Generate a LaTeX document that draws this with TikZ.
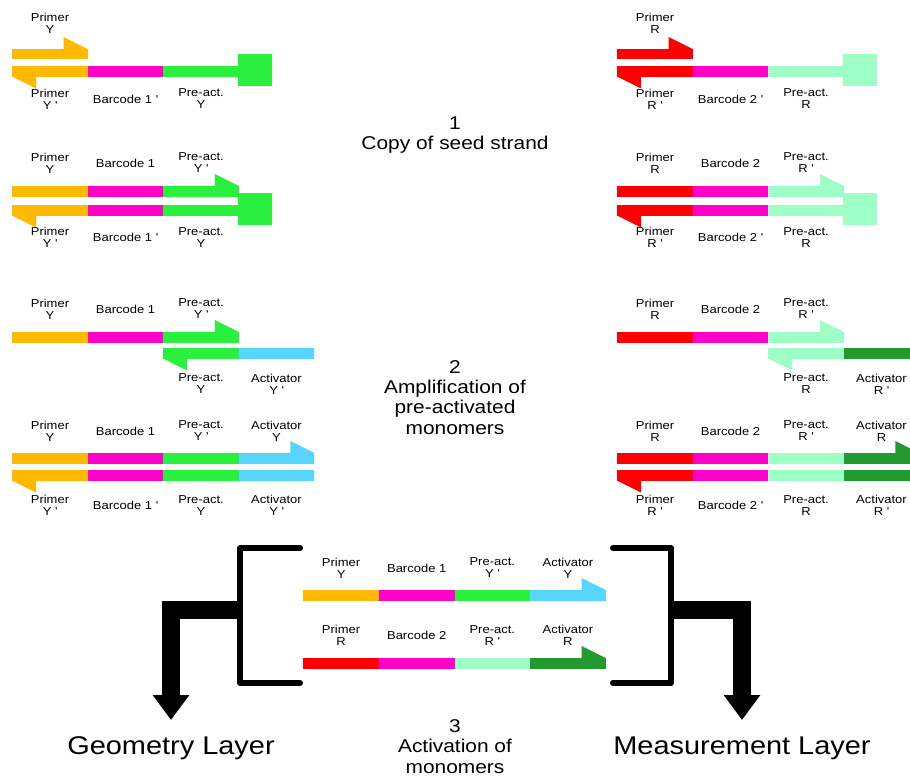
\documentclass[tikz,border=0pt]{standalone}
\usepackage{fontspec}
\setmainfont{Liberation Sans}[FakeStretch=1.13]
\usetikzlibrary{arrows.meta}

\definecolor{primY}{HTML}{FFBA00}
\definecolor{barc}{HTML}{FF00C8}
\definecolor{preY}{HTML}{28F03C}
\definecolor{actY}{HTML}{55D5FF}
\definecolor{primR}{HTML}{FF0000}
\definecolor{preR}{HTML}{9EFFC6}
\definecolor{actR}{HTML}{229A2E}

\newcommand{\prm}{~\textquotesingle}
% strand of coloured pieces: left x, top y, colours
\newcommand{\strand}[3]{%
  \foreach \col [count=\i from 0] in {#3}
    \fill[fill=\col] ({#1+\i*\segw},#2) rectangle ++(\segw,\strw);}
% half arrow heads: right end / left end of a strand
\newcommand{\fwdtip}[3]{\fill[fill=#3] (#1,#2) -- ++(-\tipl,0) -- ++(0,-\tiph) -- cycle;}
\newcommand{\revtip}[3]{\fill[fill=#3] (#1,#2) -- ++(\tipl,0) -- ++(0,\tiph) -- cycle;}

\begin{document}
\begin{tikzpicture}[
  x=1pt, y=-1pt,
  lbl/.style = {align=center, inner sep=0pt, font=\fontsize{11.5}{12}\selectfont},
  steptext/.style = {align=center, inner sep=0pt, anchor=north, font=\fontsize{18.5}{20.3}\selectfont},
  layer/.style = {inner sep=0pt, anchor=north, font=\fontsize{25.6}{30}\selectfont},
  bracket/.style = {line width=6pt, line cap=round, line join=round},
  bigarrow/.style = {line width=18pt, -{Triangle[width=35pt, length=25pt]}, shorten >=16.5pt}
]

% Parameters
\def\segw{75.6}
\def\strw{10.5}
\def\tipl{24}
\def\tiph{12}

\useasboundingbox (0,0) rectangle (910,776);
\clip (0,0) rectangle (910,776);

% Steps 1 and 2, left (Y) and right (R) columns
\foreach \sd/\dx/\L/\N/\cp/\cq/\ca in {l/0/Y/1/primY/preY/actY, r/605/R/2/primR/preR/actR}{
\begin{scope}[xshift=\dx pt]
  % copy of seed strand
  \strand{12}{49}{\cp}
  \fwdtip{87.6}{49}{\cp}
  \strand{12}{66}{\cp,barc,\cq}
  \revtip{12}{76.5}{\cp}
  \fill[fill=\cq] (238,54) rectangle (272,86);
  \node[lbl] (\sd-a1) at (50,23.5) {Primer\\\L};
  \node[lbl] (\sd-b1) at (50,99) {Primer\\\L\prm};
  \node[lbl] (\sd-b2) at (125.5,99) {Barcode \N\prm};
  \node[lbl] (\sd-b3) at (201,99) {Pre-act.\\\L};

  % full copy
  \strand{12}{186}{\cp,barc,\cq}
  \fwdtip{238.8}{186}{\cq}
  \strand{12}{205}{\cp,barc,\cq}
  \revtip{12}{215.5}{\cp}
  \fill[fill=\cq] (238,193) rectangle (272,225);
  \node[lbl] (\sd-c1) at (50,163) {Primer\\\L};
  \node[lbl] (\sd-c2) at (125.5,163) {Barcode \N};
  \node[lbl] (\sd-c3) at (201,163) {Pre-act.\\\L\prm};
  \node[lbl] (\sd-d1) at (50,237.5) {Primer\\\L\prm};
  \node[lbl] (\sd-d2) at (125.5,237.5) {Barcode \N\prm};
  \node[lbl] (\sd-d3) at (201,237.5) {Pre-act.\\\L};

  % amplification
  \strand{12}{332}{\cp,barc,\cq}
  \fwdtip{238.8}{332}{\cq}
  \strand{163.2}{348}{\cq,\ca}
  \revtip{163.2}{358.5}{\cq}
  \node[lbl] (\sd-e1) at (50,309) {Primer\\\L};
  \node[lbl] (\sd-e2) at (125.5,309) {Barcode \N};
  \node[lbl] (\sd-e3) at (201,309) {Pre-act.\\\L\prm};
  \node[lbl] (\sd-f3) at (201,384) {Pre-act.\\\L};
  \node[lbl] (\sd-f4) at (276.5,384) {Activator\\\L\prm};

  \strand{12}{453}{\cp,barc,\cq,\ca}
  \fwdtip{314.4}{453}{\ca}
  \strand{12}{470}{\cp,barc,\cq,\ca}
  \revtip{12}{480.5}{\cp}
  \node[lbl] (\sd-g1) at (50,431) {Primer\\\L};
  \node[lbl] (\sd-g2) at (125.5,431) {Barcode \N};
  \node[lbl] (\sd-g3) at (201,431) {Pre-act.\\\L\prm};
  \node[lbl] (\sd-g4) at (276.5,431) {Activator\\\L};
  \node[lbl] (\sd-h1) at (50,505.5) {Primer\\\L\prm};
  \node[lbl] (\sd-h2) at (125.5,505.5) {Barcode \N\prm};
  \node[lbl] (\sd-h3) at (201,505.5) {Pre-act.\\\L};
  \node[lbl] (\sd-h4) at (276.5,505.5) {Activator\\\L\prm};
\end{scope}
}

% Step 3: activated monomers
\strand{303.3}{590}{primY,barc,preY,actY}
\fwdtip{605.7}{590}{actY}
\strand{303.3}{658}{primR,barc,preR,actR}
\fwdtip{605.7}{658}{actR}
\node[lbl] (m-y1) at (341.1,568) {Primer\\Y};
\node[lbl] (m-y2) at (416.7,568) {Barcode 1};
\node[lbl] (m-y3) at (492.3,568) {Pre-act.\\Y\prm};
\node[lbl] (m-y4) at (567.9,568) {Activator\\Y};
\node[lbl] (m-r1) at (341.1,635.5) {Primer\\R};
\node[lbl] (m-r2) at (416.7,635.5) {Barcode 2};
\node[lbl] (m-r3) at (492.3,635.5) {Pre-act.\\R\prm};
\node[lbl] (m-r4) at (567.9,635.5) {Activator\\R};

% Step titles
\node[steptext] (st1) at (455,116.7) {1\\Copy of seed strand};
\node[steptext] (st2) at (455,360) {2\\Amplification of\\pre-activated\\monomers};
\node[steptext] (st3) at (455,719.5) {3\\Activation of\\monomers};

% Layers
\node[layer] (geo) at (171,736.5) {Geometry Layer};
\node[layer] (meas) at (742,736.5) {Measurement Layer};

% Brackets and arrows
\coordinate (ljoin) at (240,610);
\coordinate (rjoin) at (671,610);
\draw[bracket] (300,548) -| (240,683) -- (300,683);
\draw[bracket] (613,548) -| (671,683) -- (613,683);
\draw[bigarrow] (ljoin) -| (geo.north);
\draw[bigarrow] (rjoin) -| (meas.north);

\end{tikzpicture}
\end{document}
